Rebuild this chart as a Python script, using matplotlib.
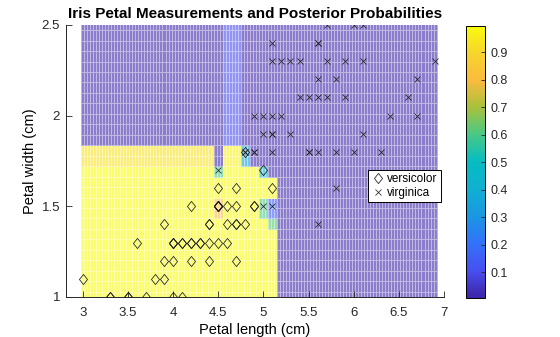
import numpy as np
import matplotlib
matplotlib.use('Agg')
import matplotlib.pyplot as plt
from matplotlib import colors, cm
from matplotlib.path import Path

plt.rcParams['font.family'] = ['Liberation Sans', 'DejaVu Sans']

#----------------------------- DATA -----------------------------
# Petal length / width (cm) of the two iris species
versicolor_len = [4.7, 4.5, 4.9, 4.0, 4.6, 4.5, 4.7, 3.3, 4.6, 3.9, 3.5, 4.2, 4.0, 4.7, 3.6, 4.4, 4.5,
                  4.1, 4.5, 3.9, 4.8, 4.0, 4.9, 4.7, 4.3, 4.4, 4.8, 5.0, 4.5, 3.5, 3.8, 3.7, 3.9, 5.1,
                  4.5, 4.5, 4.7, 4.4, 4.1, 4.0, 4.4, 4.6, 4.0, 3.3, 4.2, 4.2, 4.2, 4.3, 3.0, 4.1]
versicolor_wid = [1.4, 1.5, 1.5, 1.3, 1.5, 1.3, 1.6, 1.0, 1.3, 1.4, 1.0, 1.5, 1.0, 1.4, 1.3, 1.4, 1.5,
                  1.0, 1.5, 1.1, 1.8, 1.3, 1.5, 1.2, 1.3, 1.4, 1.4, 1.7, 1.5, 1.0, 1.1, 1.0, 1.2, 1.6,
                  1.5, 1.6, 1.5, 1.3, 1.3, 1.3, 1.2, 1.4, 1.2, 1.0, 1.3, 1.2, 1.3, 1.3, 1.1, 1.3]
virginica_len = [6.0, 5.1, 5.9, 5.6, 5.8, 6.6, 4.5, 6.3, 5.8, 6.1, 5.1, 5.3, 5.5, 5.0, 5.1, 5.3, 5.5,
                 6.7, 6.9, 5.0, 5.7, 4.9, 6.7, 4.9, 5.7, 6.0, 4.8, 4.9, 5.6, 5.8, 6.1, 6.4, 5.6, 5.1,
                 5.6, 6.1, 5.6, 5.5, 4.8, 5.4, 5.6, 5.1, 5.1, 5.9, 5.7, 5.2, 5.0, 5.2, 5.4, 5.1]
virginica_wid = [2.5, 1.9, 2.1, 1.8, 2.2, 2.1, 1.7, 1.8, 1.8, 2.5, 2.0, 1.9, 2.1, 2.0, 2.4, 2.3, 1.8,
                 2.2, 2.3, 1.5, 2.3, 2.0, 2.0, 1.8, 2.1, 1.8, 1.8, 1.8, 2.1, 1.6, 1.9, 2.0, 2.2, 1.5,
                 1.4, 2.3, 2.4, 1.8, 1.8, 2.1, 2.4, 2.3, 1.9, 2.3, 2.5, 2.3, 1.9, 2.0, 2.3, 1.8]

# Posterior probability of versicolor: background value and rectangular regions (applied in order)
post_background = 0.008
region_xlo = [2.95, 2.95, 4.45, 4.95, 2.95, 4.45, 4.55, 4.75, 4.55, 4.45, 4.95, 5.05, 5.05]
region_xhi = [5.15, 4.95, 4.55, 5.05, 4.45, 4.55, 4.75, 4.85, 4.75, 4.55, 5.05, 5.15, 5.15]
region_ylo = [0.95, 1.65, 1.65, 1.65, 1.75, 1.75, 1.75, 1.75, 1.85, 1.45, 1.45, 1.45, 1.35]
region_yhi = [1.65, 1.75, 1.75, 1.75, 1.85, 1.85, 1.85, 1.85, 2.55, 1.55, 1.55, 1.55, 1.45]
region_prob = [0.997, 0.997, 0.60, 0.42, 0.93, 0.008, 0.97, 0.35, 0.10, 0.80, 0.60, 0.15, 0.62]

#----------------------------- SETUP -----------------------------
# parula-like colormap
parula_nodes = [(0.00, '#3e26a8'), (0.10, '#4850f2'), (0.20, '#3372fa'), (0.30, '#1a98e2'),
                (0.40, '#0fb0d2'), (0.50, '#06bcc2'), (0.60, '#48c986'), (0.70, '#a8c13c'),
                (0.80, '#fbbb3d'), (0.90, '#f6d52c'), (1.00, '#f9fb0e')]
parula = colors.LinearSegmentedColormap.from_list('parula', parula_nodes)
# same map faded towards white, for the translucent region plot
fade = 0.6
faded = parula(np.linspace(0, 1, 256))[:, :3] * fade + (1 - fade)
parula_faded = colors.ListedColormap(faded)

# evaluation grid over the petal plane
grid_x = np.linspace(3.0, 6.9, 118)
grid_y = np.linspace(1.0, 2.5, 27)
gx, gy = np.meshgrid(grid_x, grid_y)
posterior = np.full(gx.shape, post_background)
for x0, x1, y0, y1, p in zip(region_xlo, region_xhi, region_ylo, region_yhi, region_prob):
    posterior[(gx >= x0) & (gx < x1) & (gy >= y0) & (gy < y1)] = p

norm = colors.Normalize(vmin=posterior.min(), vmax=posterior.max())

diamond = Path([(0, 1), (0.8, 0), (0, -1), (-0.8, 0), (0, 1)],
               [Path.MOVETO, Path.LINETO, Path.LINETO, Path.LINETO, Path.CLOSEPOLY])

#----------------------------- MAIN -----------------------------
fig = plt.figure(figsize=(5.6, 3.37), dpi=100)
ax = fig.add_axes([0.117, 0.119, 0.676, 0.807])
cax = fig.add_axes([0.8316, 0.117, 0.035, 0.807])

ax.pcolormesh(gx, gy, posterior, cmap=parula_faded, norm=norm, shading='nearest',
              edgecolors=(1, 1, 1, 0.45), linewidth=0.4)

l1, = ax.plot(versicolor_len, versicolor_wid, ls='None', marker=diamond, ms=7.3,
              mfc='none', mec='#1a1a1a', mew=0.55)
l2, = ax.plot(virginica_len, virginica_wid, ls='None', marker='x', ms=4.5,
              mec='#222222', mew=0.55)

ax.set_xlim(2.81, 7)
ax.set_ylim(1, 2.5)
ax.set_xticks(np.arange(3, 7.01, 0.5))
ax.set_xticklabels(['3', '3.5', '4', '4.5', '5', '5.5', '6', '6.5', '7'])
ax.set_yticks([1, 1.5, 2, 2.5])
ax.set_yticklabels(['1', '1.5', '2', '2.5'])
ax.tick_params(direction='in', length=4, width=0.6, labelsize=9.5, colors='#262626', pad=4)
ax.tick_params(axis='x', pad=7.5)
for side in ['top', 'right']:
    ax.spines[side].set_visible(False)
for side in ['left', 'bottom']:
    ax.spines[side].set_linewidth(0.7)
    ax.spines[side].set_color('#262626')

ax.set_xlabel('Petal length (cm)', fontsize=10.5, labelpad=2.5)
ax.set_ylabel('Petal width (cm)', fontsize=10.5, labelpad=3)
ax.set_title('Iris Petal Measurements and Posterior Probabilities', fontsize=11,
             fontweight='bold', pad=5)

leg = ax.legend((l1, l2), ('versicolor', 'virginica'), loc='upper left',
                bbox_to_anchor=(0.80, 0.468), fontsize=8.5, fancybox=False, framealpha=1,
                edgecolor='black', borderpad=0.3, handlelength=1.0, handletextpad=0.3,
                labelspacing=0.15, borderaxespad=0)
leg.get_frame().set_linewidth(0.7)

sm = cm.ScalarMappable(norm=norm, cmap=parula)
cb = fig.colorbar(sm, cax=cax, ticks=np.arange(0.1, 0.95, 0.1))
cb.ax.set_yticklabels(['0.1', '0.2', '0.3', '0.4', '0.5', '0.6', '0.7', '0.8', '0.9'])
cb.ax.tick_params(direction='in', length=3, width=0.6, labelsize=9, colors='#262626')
cb.outline.set_linewidth(0.7)

fig.savefig('out.png', dpi=100)
